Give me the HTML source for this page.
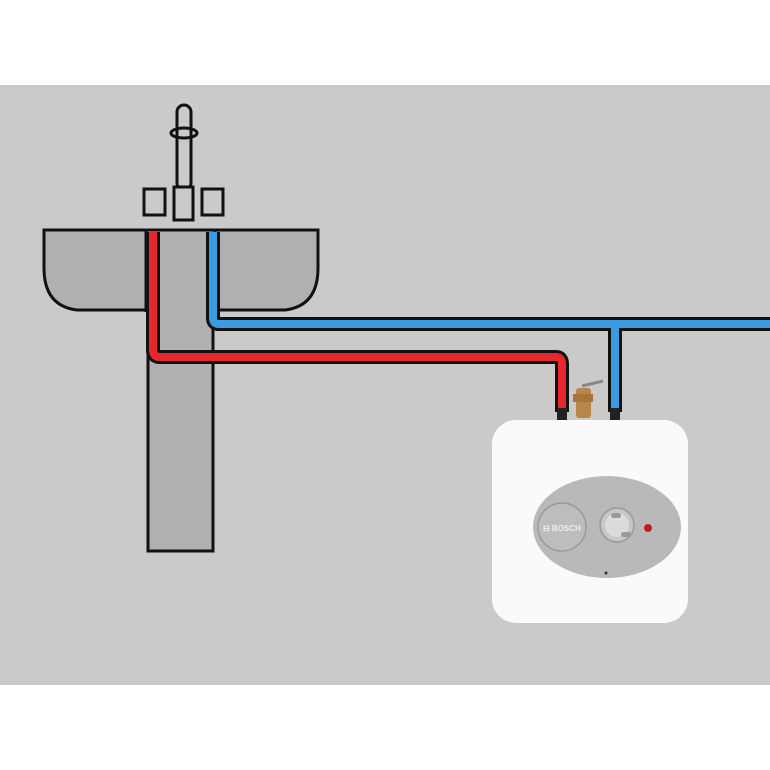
<!DOCTYPE html>
<html><head><style>body{margin:0;background:#fff}svg{display:block}</style></head><body>
<svg width="770" height="770" viewBox="0 0 770 770">
<rect x="0" y="85" width="770" height="600" fill="#cbcac9"/>
<!-- pedestal -->
<rect x="148" y="230" width="65" height="321" fill="#b0b0b0" stroke="#111" stroke-width="3"/>
<!-- basin -->
<path d="M44 230 H318 V268 Q318 306 285 310 H77 Q44 306 44 268 Z" fill="#b0b0b0" stroke="#111" stroke-width="3"/>
<rect x="146" y="232" width="69" height="80" fill="#b0b0b0"/>
<line x1="146" y1="231" x2="146" y2="312" stroke="#111" stroke-width="3"/>
<line x1="215" y1="231" x2="215" y2="312" stroke="#111" stroke-width="3"/>
<!-- faucet -->
<rect x="177" y="105" width="14" height="85" rx="7" fill="#cbcac9" stroke="#111" stroke-width="3"/>
<ellipse cx="184" cy="133" rx="13" ry="5" fill="none" stroke="#111" stroke-width="3"/>
<rect x="174" y="187" width="19" height="33" fill="#cbcac9" stroke="#111" stroke-width="3"/>
<rect x="144" y="189" width="21" height="26" fill="#cbcac9" stroke="#111" stroke-width="3"/>
<rect x="202" y="189" width="21" height="26" fill="#cbcac9" stroke="#111" stroke-width="3"/>
<!-- blue pipe -->
<path d="M213 232 V318 Q213 324 219 324 H770 M615 324 V412" fill="none" stroke="#111" stroke-width="14"/>
<path d="M213 232 V318 Q213 324 219 324 H770 M615 324 V412" fill="none" stroke="#3a9be0" stroke-width="8"/>
<!-- red pipe -->
<path d="M153 232 V350 Q153 357 160 357 H556 Q562 357 562 364 V412" fill="none" stroke="#111" stroke-width="14"/>
<path d="M153 232 V350 Q153 357 160 357 H556 Q562 357 562 364 V412" fill="none" stroke="#e8262e" stroke-width="8"/>
<rect x="557" y="408" width="10" height="12" fill="#222"/>
<rect x="610" y="408" width="10" height="12" fill="#222"/>
<!-- valve -->
<rect x="576" y="388" width="15" height="30" rx="3" fill="#b8864a"/>
<rect x="573" y="394" width="20" height="8" fill="#a87538"/>
<line x1="582" y1="386" x2="603" y2="381" stroke="#888" stroke-width="3"/>
<!-- heater -->
<rect x="492" y="420" width="196" height="203" rx="24" fill="#fafafa"/>
<ellipse cx="607" cy="527" rx="74" ry="51" fill="#b9b9b9"/>
<circle cx="562" cy="527" r="24" fill="#bdbdbd" stroke="#999" stroke-width="1.5"/>
<text x="543" y="531" font-family="Liberation Sans, sans-serif" font-size="8" font-weight="bold" fill="#eee">⊟ BOSCH</text>
<circle cx="617" cy="525" r="17" fill="#c8c8c8" stroke="#a0a0a0" stroke-width="2"/>
<circle cx="617" cy="525" r="12" fill="#dcdcdc"/>
<rect x="611" y="513" width="10" height="5" rx="2.5" fill="#999"/>
<rect x="621" y="532" width="10" height="5" rx="2.5" fill="#999"/>
<circle cx="648" cy="528" r="4" fill="#c0211d"/>
<circle cx="606" cy="573" r="1.5" fill="#333"/>
</svg>
</body></html>
